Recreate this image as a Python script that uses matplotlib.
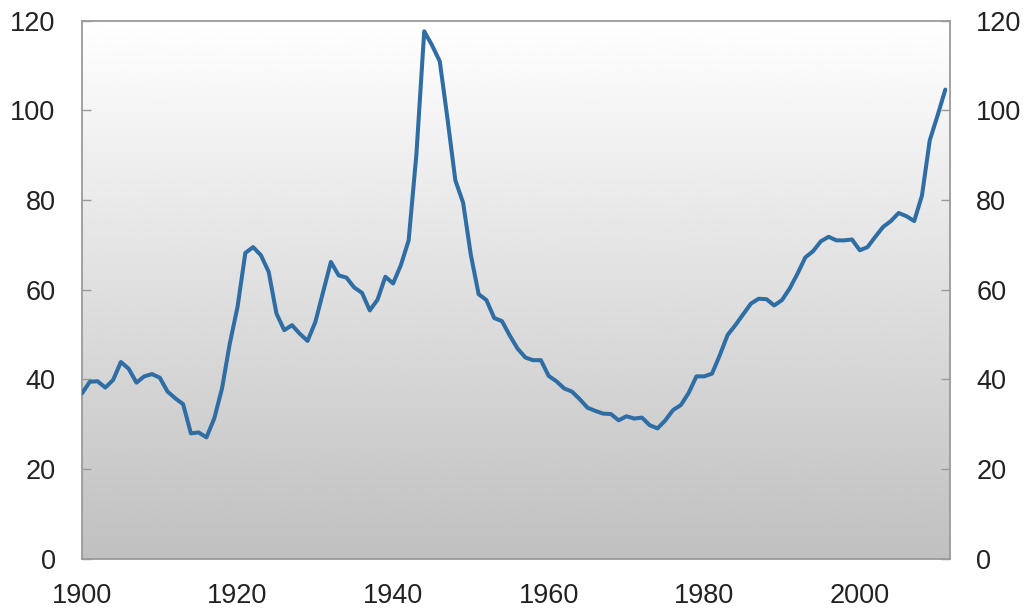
import numpy as np
import matplotlib
matplotlib.use("Agg")
import matplotlib.pyplot as plt

plt.rcParams["font.family"] = ["Liberation Sans", "DejaVu Sans"]

# values, one per year 1900..2011
years = list(range(1900, 2012))
values = [
    36.9, 39.5, 39.6, 38.2, 39.9, 43.9, 42.4, 39.3, 40.7, 41.2,   # 1900s
    40.4, 37.3, 35.8, 34.5, 28.0, 28.2, 27.1, 31.3, 38.0, 48.0,   # 1910s
    56.2, 68.2, 69.5, 67.7, 64.0, 54.7, 51.0, 52.1, 50.2, 48.6,   # 1920s
    52.8, 59.5, 66.2, 63.2, 62.7, 60.5, 59.3, 55.4, 57.8, 62.9,   # 1930s
    61.4, 65.5, 71.0, 90.3, 117.6, 114.5, 110.9, 98.0, 84.4, 79.4,  # 1940s
    67.7, 59.0, 57.7, 53.7, 53.0, 49.8, 46.9, 44.9, 44.3, 44.3,   # 1950s
    40.8, 39.6, 38.0, 37.3, 35.6, 33.7, 33.0, 32.4, 32.3, 30.9,   # 1960s
    31.8, 31.3, 31.5, 29.8, 29.1, 30.9, 33.2, 34.3, 37.0, 40.7,   # 1970s
    40.7, 41.3, 45.4, 49.9, 52.1, 54.5, 56.9, 58.0, 57.9, 56.5,   # 1980s
    57.7, 60.3, 63.6, 67.2, 68.6, 70.8, 71.8, 71.0, 71.0, 71.2,   # 1990s
    68.8, 69.5, 71.8, 74.0, 75.3, 77.1, 76.4, 75.3, 81.0, 93.3,   # 2000s
    98.8, 104.6,                                                  # 2010s
]
xtick_years = [1900, 1920, 1940, 1960, 1980, 2000]
ytick_values = [0, 20, 40, 60, 80, 100, 120]

LINE_COLOR = "#2f6da5"
SPINE_COLOR = "#9a9a9a"
TEXT_COLOR = "#222222"

fig = plt.figure(figsize=(10.29, 6.14), dpi=100)
ax = fig.add_axes([0.0797, 0.0896, 0.8435, 0.877])

# white-to-grey vertical gradient behind the plot
grad = np.linspace(0.753, 1.0, 256).reshape(-1, 1)
ax.imshow(grad, cmap="gray", vmin=0, vmax=1, aspect="auto",
          extent=[0, 1, 0, 1], transform=ax.transAxes, origin="lower",
          zorder=0, interpolation="bicubic")

ax.plot(years, values, color=LINE_COLOR, lw=2.9, zorder=3,
        solid_joinstyle="round", solid_capstyle="round")

ax.set_xlim(1900, 2011.6)
ax.set_ylim(0, 120)
ax.set_xticks(xtick_years)
ax.set_yticks(ytick_values)

for s in ax.spines.values():
    s.set_color(SPINE_COLOR)
    s.set_linewidth(1.3)

ax.tick_params(axis="x", length=0, pad=17, labelsize=19.5, labelcolor=TEXT_COLOR)
ax.tick_params(axis="y", direction="in", length=6.5, width=1.0, color=SPINE_COLOR,
               left=True, right=True, labelleft=True, labelright=True,
               pad=19, labelsize=19.5, labelcolor=TEXT_COLOR)

fig.savefig("out.png", dpi=100)
